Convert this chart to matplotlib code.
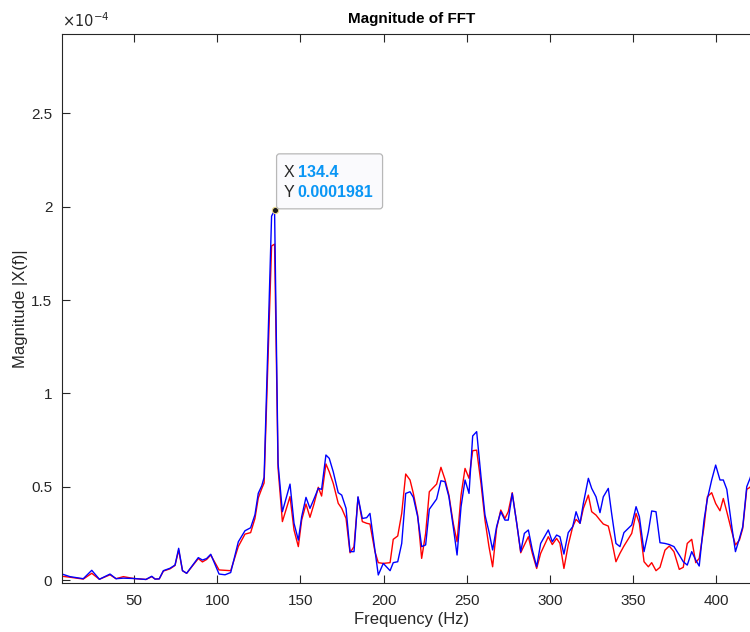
import matplotlib
matplotlib.use("Agg")
import matplotlib.pyplot as plt
import matplotlib.transforms as mtransforms
from matplotlib.patches import FancyBboxPatch
from matplotlib.ticker import FuncFormatter
import numpy as np

plt.rcParams['font.family'] = ['Liberation Sans', 'DejaVu Sans']

# frequency (Hz) and |X(f)| in units of 1e-4 for the two signals
freq = [6.5, 11.3, 19.3, 24.4, 29.0, 35.4, 39.0, 43.4, 49.8, 57.0,
        60.5, 62.5, 65.0, 67.5, 71.5, 74.5, 76.7, 79.0, 81.5, 88.5,
        91.0, 93.5, 96.0, 101.0, 104.6, 108.0, 112.6, 116.6, 120.0, 122.6,
        124.6, 126.7, 128.1, 132.6, 134.4, 136.5, 139.1, 143.7, 146.1, 148.7,
        150.7, 153.3, 155.7, 158.1, 160.7, 162.7, 165.3, 167.3, 169.7, 172.7,
        174.8, 177.4, 179.8, 182.2, 184.6, 187.2, 189.8, 191.8, 194.8, 196.8,
        199.8, 203.9, 205.8, 208.5, 210.9, 213.3, 215.9, 217.9, 220.5, 222.9,
        225.3, 227.5, 231.9, 234.5, 236.9, 239.3, 241.9, 244.2, 246.6, 249.0,
        251.4, 253.6, 256.0, 258.6, 261.0, 263.4, 265.6, 268.0, 270.5, 273.0,
        275.0, 277.4, 280.1, 282.5, 284.7, 287.1, 289.5, 292.1, 294.5, 299.1,
        301.5, 304.1, 306.1, 308.5, 311.1, 313.8, 315.8, 318.2, 320.2, 323.2,
        325.2, 327.8, 330.2, 332.2, 335.2, 337.2, 339.8, 342.2, 344.6, 349.3,
        351.9, 353.9, 356.7, 359.3, 361.3, 363.9, 366.3, 369.3, 371.9, 374.7,
        377.9, 380.3, 382.7, 385.4, 387.8, 389.9, 392.8, 394.8, 397.4, 399.8,
        402.4, 404.4, 406.5, 409.5, 411.7, 414.1, 416.1, 418.5, 420.5, 423.0]

mag_red = [0.020, 0.015, 0.005, 0.036, 0.004, 0.028, 0.007, 0.018, 0.008, 0.003,
           0.018, 0.005, 0.006, 0.048, 0.060, 0.078, 0.160, 0.050, 0.036, 0.115,
           0.097, 0.110, 0.134, 0.054, 0.052, 0.050, 0.180, 0.246, 0.254, 0.330,
           0.440, 0.490, 0.520, 1.790, 1.800, 0.600, 0.313, 0.447, 0.268, 0.179,
           0.321, 0.407, 0.336, 0.407, 0.497, 0.450, 0.622, 0.580, 0.518, 0.411,
           0.384, 0.330, 0.146, 0.179, 0.443, 0.313, 0.304, 0.300, 0.152, 0.093,
           0.089, 0.093, 0.218, 0.236, 0.357, 0.568, 0.536, 0.464, 0.348, 0.116,
           0.250, 0.473, 0.514, 0.604, 0.540, 0.455, 0.304, 0.205, 0.455, 0.598,
           0.545, 0.693, 0.696, 0.518, 0.321, 0.179, 0.071, 0.277, 0.375, 0.330,
           0.366, 0.468, 0.304, 0.146, 0.188, 0.232, 0.143, 0.062, 0.143, 0.232,
           0.190, 0.223, 0.196, 0.062, 0.188, 0.286, 0.325, 0.304, 0.384, 0.455,
           0.366, 0.348, 0.321, 0.300, 0.289, 0.214, 0.098, 0.143, 0.182, 0.250,
           0.357, 0.304, 0.098, 0.071, 0.093, 0.050, 0.068, 0.160, 0.182, 0.152,
           0.057, 0.068, 0.196, 0.218, 0.093, 0.116, 0.286, 0.446, 0.468, 0.410,
           0.371, 0.437, 0.366, 0.259, 0.188, 0.214, 0.277, 0.486, 0.497, 0.550]

mag_blue = [0.032, 0.018, 0.007, 0.052, 0.004, 0.032, 0.007, 0.010, 0.008, 0.003,
            0.020, 0.005, 0.006, 0.050, 0.063, 0.080, 0.170, 0.050, 0.036, 0.120,
            0.107, 0.115, 0.138, 0.032, 0.028, 0.040, 0.205, 0.264, 0.280, 0.350,
            0.465, 0.505, 0.550, 1.950, 1.981, 0.625, 0.366, 0.514, 0.304, 0.214,
            0.339, 0.443, 0.384, 0.434, 0.491, 0.486, 0.670, 0.652, 0.580, 0.468,
            0.455, 0.384, 0.152, 0.152, 0.446, 0.330, 0.334, 0.357, 0.161, 0.027,
            0.089, 0.050, 0.093, 0.098, 0.196, 0.464, 0.473, 0.443, 0.339, 0.179,
            0.188, 0.379, 0.434, 0.532, 0.527, 0.446, 0.286, 0.134, 0.393, 0.536,
            0.464, 0.772, 0.795, 0.554, 0.348, 0.259, 0.161, 0.286, 0.366, 0.321,
            0.321, 0.464, 0.304, 0.152, 0.250, 0.268, 0.161, 0.071, 0.196, 0.268,
            0.205, 0.241, 0.232, 0.139, 0.254, 0.286, 0.366, 0.304, 0.411, 0.545,
            0.491, 0.446, 0.361, 0.446, 0.491, 0.357, 0.196, 0.179, 0.254, 0.295,
            0.393, 0.339, 0.152, 0.259, 0.370, 0.366, 0.200, 0.196, 0.190, 0.179,
            0.134, 0.098, 0.080, 0.152, 0.107, 0.075, 0.321, 0.434, 0.536, 0.616,
            0.536, 0.536, 0.486, 0.286, 0.152, 0.223, 0.286, 0.500, 0.545, 0.620]

tip_f = 134.4
tip_mag = 1.981  # x 1e-4

scale = 1e-4
f = np.array(freq)
r = np.array(mag_red) * scale
b = np.array(mag_blue) * scale

fig = plt.figure(figsize=(7.5, 6.32), dpi=100)
ax = fig.add_axes([62 / 750, 1 - 583 / 632, 700 / 750, (583 - 34) / 632])

ax.plot(f, r, color='#ff0000', lw=1.0)
ax.plot(f, b, color='#0000ff', lw=1.0)

ax.set_xlim(6.5, (762 - 51.2) / 1.662)
ax.set_ylim(-0.016e-4, 2.926e-4)
ax.set_xticks([50, 100, 150, 200, 250, 300, 350, 400])
ax.set_yticks(np.array([0, 0.5, 1, 1.5, 2, 2.5]) * scale)
ax.yaxis.set_major_formatter(FuncFormatter(lambda v, p: '%g' % round(v / scale, 3)))

axcol = '#262626'
for s in ax.spines.values():
    s.set_color(axcol)
    s.set_linewidth(0.8)
ax.tick_params(direction='in', length=6, width=0.8, colors=axcol,
               labelsize=11, top=True, right=True)
ax.tick_params(axis='x', pad=8)
ax.tick_params(axis='y', pad=7)

ax.set_title('Magnitude of FFT', fontsize=11, fontweight='bold', color='black', pad=8)
ax.set_xlabel('Frequency (Hz)', fontsize=12, color=axcol, labelpad=3)
ax.set_ylabel('Magnitude |X(f)|', fontsize=12, color=axcol, labelpad=2)
ax.text(0.0, 1.008, r'$\times 10^{-4}$', transform=ax.transAxes, fontsize=10.5,
        color=axcol, ha='left', va='bottom')

# data tip on the peak
ax.plot([tip_f], [tip_mag * scale], 'o', ms=4.5, mfc='#1a1a1a', mec='#e8d88a',
        mew=0.8, zorder=5)
fig.canvas.draw()
anchor = ax.transData.transform((tip_f, tip_mag * scale))
tr = mtransforms.Affine2D().translate(*anchor)
box = FancyBboxPatch((2, 1.5), 106, 55, boxstyle='round,pad=0,rounding_size=3',
                     transform=tr, facecolor='#fafafd', edgecolor='#b8b8b8',
                     lw=0.9, zorder=6, clip_on=False)
fig.patches.append(box)
box.set_figure(fig)
fs = 11.5
fig.text(9, 38, 'X', transform=tr, fontsize=fs, color=axcol, va='center', zorder=7)
fig.text(23, 38, '%g' % tip_f, transform=tr, fontsize=fs, color='#0a96f5',
         fontweight='bold', va='center', zorder=7)
fig.text(9, 18, 'Y', transform=tr, fontsize=fs, color=axcol, va='center', zorder=7)
fig.text(23, 18, '%.7f' % (tip_mag * scale), transform=tr, fontsize=fs,
         color='#0a96f5', fontweight='bold', va='center', zorder=7)

fig.savefig('out.png', dpi=100)
